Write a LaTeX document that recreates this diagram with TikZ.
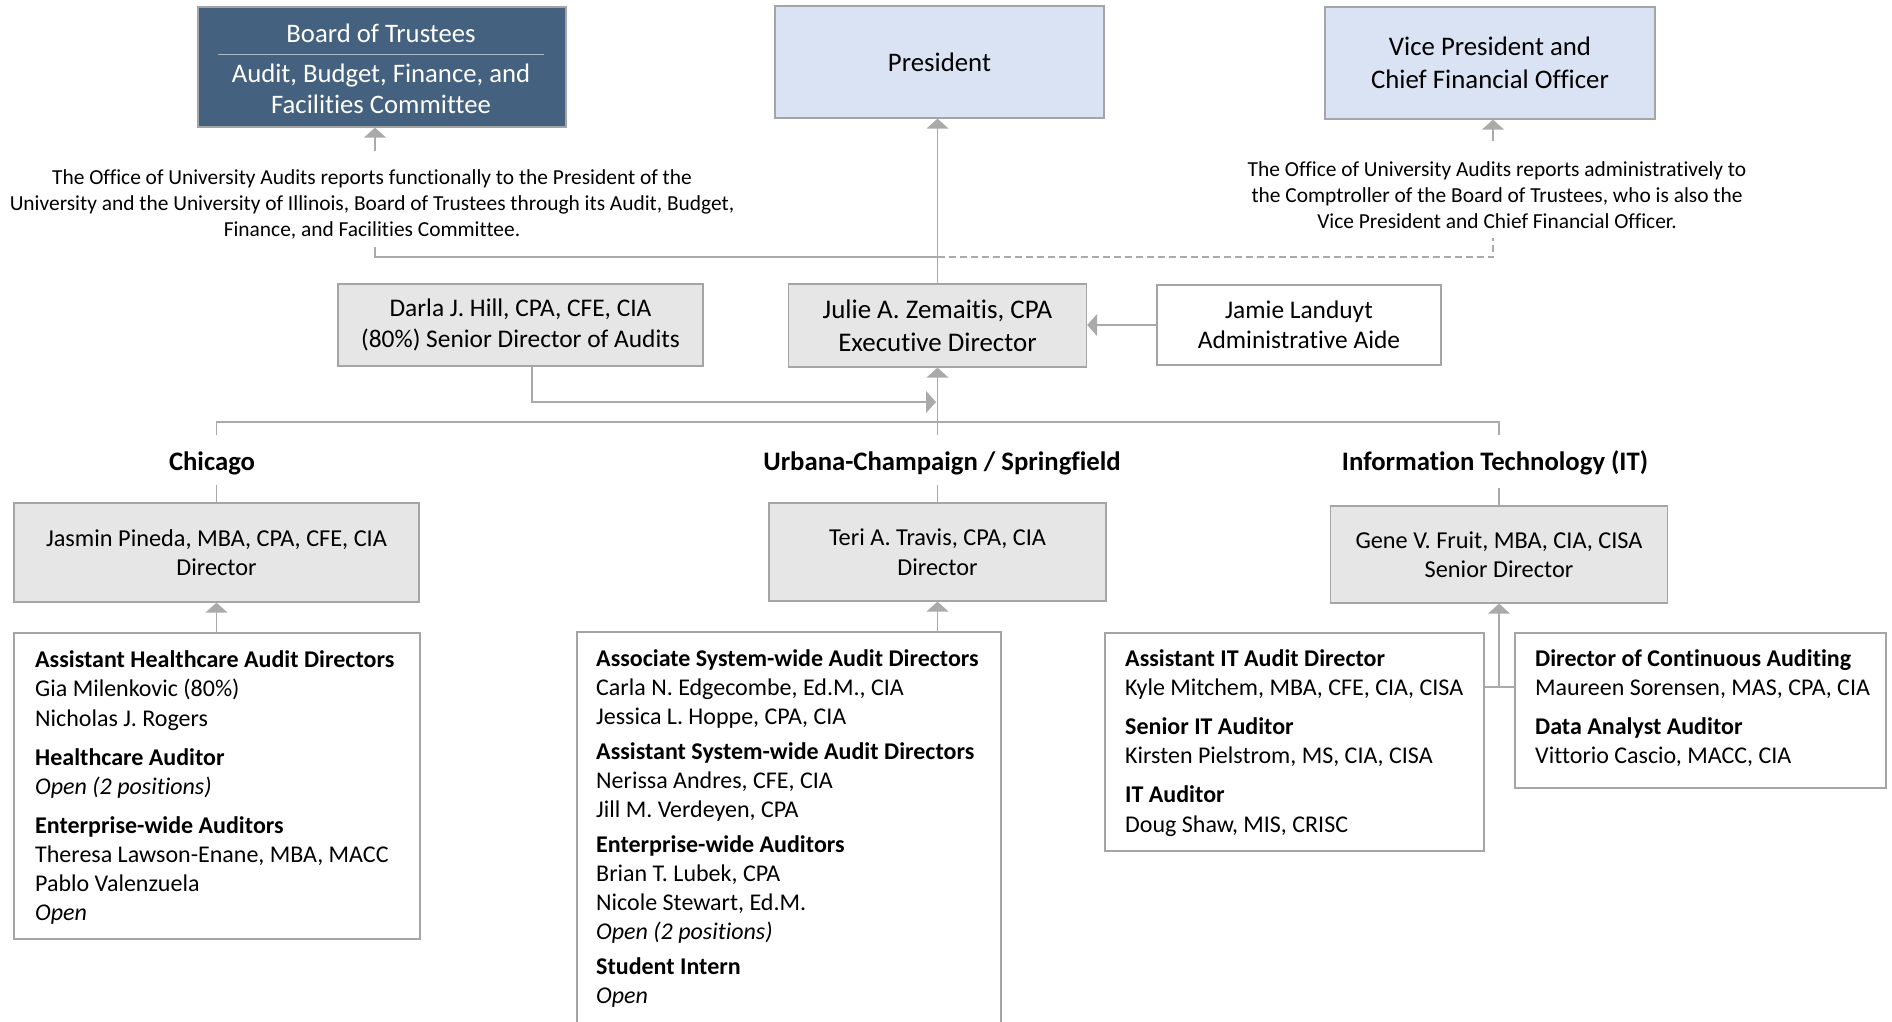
\documentclass[tikz,border=0pt]{standalone}
\usepackage{fontspec}
\setmainfont{Carlito}[Ligatures=NoCommon]
\usetikzlibrary{arrows.meta}
\definecolor{boardblue}{RGB}{68,97,128}
\definecolor{presblue}{RGB}{218,227,243}
\definecolor{boxgray}{RGB}{231,230,230}
\definecolor{linegray}{RGB}{170,170,170}
\definecolor{bordergray}{RGB}{165,165,165}
\begin{document}
\begin{tikzpicture}[x=1pt,y=-1pt,
 conn/.style={draw=linegray,line width=1.4pt},
 conarr/.style={conn,-{Triangle[width=22pt,length=10pt]}},
 bx/.style={draw=bordergray,line width=1.3pt,inner sep=4pt,align=center,font=\fontsize{24.3}{29.5}\selectfont},
 graybx/.style={bx,fill=boxgray},
 bluebx/.style={bx,fill=presblue,font=\fontsize{26.8}{33}\selectfont},
 listbx/.style={draw=bordergray,line width=1.3pt,fill=white,inner sep=0pt},
 para/.style={align=center,font=\fontsize{21.4}{26}\selectfont,inner sep=0pt},
 head/.style={anchor=base,font=\fontsize{26.7}{30}\selectfont\bfseries,inner sep=0pt},
 boardtxt/.style={anchor=base,text=white,font=\fontsize{26.7}{30}\selectfont,inner sep=0pt},
 li/.style={anchor=base west,inner sep=0pt,font=\fontsize{24}{29}\selectfont},
 lh/.style={li,font=\fontsize{24}{29}\selectfont\bfseries},
 lo/.style={li,font=\fontsize{24}{29}\selectfont\itshape},
]
\useasboundingbox (0,0) rectangle (1892,1021);
\clip (0,0) rectangle (1892,1021);

% top row
\node[draw=bordergray,line width=1.3pt,fill=boardblue,minimum width=368pt,minimum height=120pt] (Board) at (382,67) {};
\node[boardtxt] (bt1) at (381,42.5) {Board of Trustees};
\node[boardtxt] (bt2) at (381,82.5) {Audit, Budget, Finance, and};
\node[boardtxt] (bt3) at (381,113.5) {Facilities Committee};
\draw[white!55!boardblue,line width=0.8pt] (218,54) -- (544,54);

\node[bluebx,minimum width=329pt,minimum height=112pt] (Pres) at (939.5,62) {President};
\node[bluebx,minimum width=330pt,minimum height=112pt] (VP) at (1490,63) {Vice President and\\Chief Financial Officer};

\node[para] (ParaL) at (372,204) {The Office of University Audits reports functionally to the President of the\\University and the University of Illinois, Board of Trustees through its Audit, Budget,\\Finance, and Facilities Committee.};
\node[para] (ParaR) at (1497,195) {The Office of University Audits reports administratively to\\the Comptroller of the Board of Trustees, who is also the\\Vice President and Chief Financial Officer.};

% second row
\node[graybx,minimum width=365pt,minimum height=82pt,font=\fontsize{25.4}{31}\selectfont] (Darla) at (520.5,325) {Darla J. Hill, CPA, CFE, CIA\\(80\%) Senior Director of Audits};
\node[graybx,minimum width=298pt,minimum height=83pt,font=\fontsize{26.9}{33}\selectfont] (Julie) at (937.5,325.5) {Julie A. Zemaitis, CPA\\Executive Director};
\node[bx,fill=white,minimum width=284pt,minimum height=80pt,font=\fontsize{25.4}{30.5}\selectfont] (Jamie) at (1299,325) {Jamie Landuyt\\Administrative Aide};

% connectors top
\coordinate (bstub) at (375,151);
\draw[conarr] (bstub) -- (bstub |- Board.south);
\coordinate (ljoin) at (375,247);
\coordinate (mjoin) at (937.5,257);
\draw[conn] (ljoin) |- (mjoin);
\draw[conarr] (Julie.north) -- (Julie.north |- Pres.south);
\coordinate (vpstub) at (1493,238);
\draw[conn,dashed,dash pattern=on 7pt off 4pt] (mjoin) -| (vpstub);
\coordinate (vptop) at (1493,141);
\draw[conarr] (vptop) -- (vptop |- VP.south);
\draw[conarr] (Jamie.west) -- (Jamie.west -| Julie.east);
\coordinate (dtip) at (936,402);
\draw[conarr] ([xshift=11.5pt]Darla.south) |- (dtip);

% branch
\coordinate (brL) at (216.5,435);
\coordinate (brR) at (1499,435);
\coordinate (brM) at (937.5,435);
\draw[conn] (brL) -- ++(0,-13) -| (brR);
\draw[conarr] (brM) -- (Julie.south);

% headers
\node[head] (hChi) at (212,470) {Chicago};
\node[head] (hUrb) at (942,470) {Urbana-Champaign / Springfield};
\node[head] (hIT) at (1495,470) {Information Technology (IT)};

% directors
\node[graybx,minimum width=405pt,minimum height=99pt] (Jasmin) at (216.5,552.5) {Jasmin Pineda, MBA, CPA, CFE, CIA\\Director};
\node[graybx,minimum width=337pt,minimum height=98pt] (Teri) at (937.5,552) {Teri A. Travis, CPA, CIA\\Director};
\node[graybx,minimum width=337pt,minimum height=97pt] (Gene) at (1499,554.5) {Gene V. Fruit, MBA, CIA, CISA\\Senior Director};
\draw[conn] (Jasmin.north) -- ++(0,-17);
\draw[conn] (Teri.north) -- ++(0,-17);
\draw[conn] (Gene.north) -- ++(0,-17);

% list boxes
\node[listbx,minimum width=406pt,minimum height=306pt] (ChiList) at (217,786) {};
\node[listbx,minimum width=424pt,minimum height=420pt] (UrbList) at (789,842) {};
\node[listbx,minimum width=379pt,minimum height=218pt] (ITL) at (1294.5,742) {};
\node[listbx,minimum width=371pt,minimum height=155pt] (ITR) at (1700.5,710.5) {};

\draw[conarr] (Jasmin.south |- ChiList.north) -- (Jasmin.south);
\draw[conarr] (Teri.south |- UrbList.north) -- (Teri.south);
\coordinate (itjoin) at (1499,687);
\draw[conn] (ITL.east |- itjoin) -- (ITR.west |- itjoin);
\draw[conarr] (itjoin) -- (Gene.south);

% Chicago list
\node[lh] (c1) at (35,667) {Assistant Healthcare Audit Directors};
\node[li] (c2) at (35,696) {Gia Milenkovic (80\%)};
\node[li] (c3) at (35,726) {Nicholas J. Rogers};
\node[lh] (c4) at (35,765) {Healthcare Auditor};
\node[lo] (c5) at (35,794) {Open (2 positions)};
\node[lh] (c6) at (35,833) {Enterprise-wide Auditors};
\node[li] (c7) at (35,862) {Theresa Lawson-Enane, MBA, MACC};
\node[li] (c8) at (35,891) {Pablo Valenzuela};
\node[lo] (c9) at (35,920) {Open};

% Urbana list
\node[lh] (u1) at (596,666) {Associate System-wide Audit Directors};
\node[li] (u2) at (596,695) {Carla N. Edgecombe, Ed.M., CIA};
\node[li] (u3) at (596,724) {Jessica L. Hoppe, CPA, CIA};
\node[lh] (u4) at (596,759) {Assistant System-wide Audit Directors};
\node[li] (u5) at (596,788) {Nerissa Andres, CFE, CIA};
\node[li] (u6) at (596,817) {Jill M. Verdeyen, CPA};
\node[lh] (u7) at (596,852) {Enterprise-wide Auditors};
\node[li] (u8) at (596,881) {Brian T. Lubek, CPA};
\node[li] (u9) at (596,910) {Nicole Stewart, Ed.M.};
\node[lo] (u10) at (596,939) {Open (2 positions)};
\node[lh] (u11) at (596,974) {Student Intern};
\node[lo] (u12) at (596,1003) {Open};

% IT lists
\node[lh] (i1) at (1125,666) {Assistant IT Audit Director};
\node[li] (i2) at (1125,695) {Kyle Mitchem, MBA, CFE, CIA, CISA};
\node[lh] (i3) at (1125,734) {Senior IT Auditor};
\node[li] (i4) at (1125,763) {Kirsten Pielstrom, MS, CIA, CISA};
\node[lh] (i5) at (1125,802) {IT Auditor};
\node[li] (i6) at (1125,832) {Doug Shaw, MIS, CRISC};

\node[lh] (r1) at (1535,666) {Director of Continuous Auditing};
\node[li] (r2) at (1535,695) {Maureen Sorensen, MAS, CPA, CIA};
\node[lh] (r3) at (1535,734) {Data Analyst Auditor};
\node[li] (r4) at (1535,763) {Vittorio Cascio, MACC, CIA};
\end{tikzpicture}
\end{document}
